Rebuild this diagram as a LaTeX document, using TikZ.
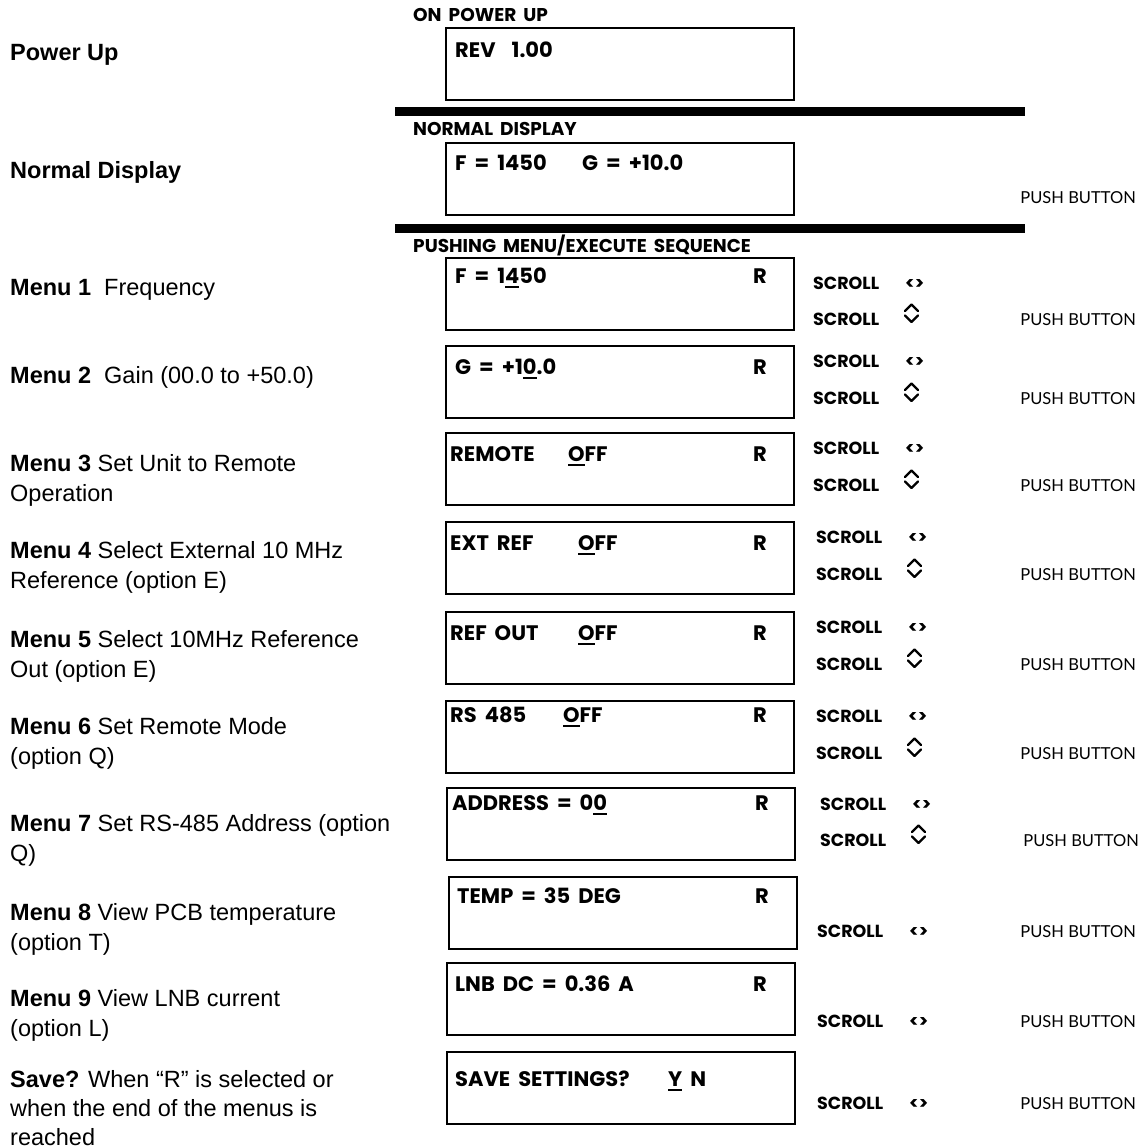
\documentclass[tikz,border=0pt]{standalone}
\usepackage{fontspec}
\setmainfont{Liberation Sans}
\newfontfamily\lcd{Poppins}[WordSpace=1.8]
\newfontfamily\pbfont{Lato}
\newcommand\lcdul[1]{\setbox0=\hbox{#1}\rlap{\rule[-4.5pt]{\wd0}{1.8pt}}\box0\relax}
\tikzset{
  lcdbox/.style={draw, line width=2.4pt, minimum width=348pt, minimum height=72pt, inner sep=0pt, outer sep=0pt, anchor=north west},
  lcdtxt/.style={anchor=base west, inner sep=0pt, font=\lcd\bfseries\fontsize{21}{24}\selectfont},
  hdr/.style={anchor=base west, inner sep=0pt, font=\lcd\bfseries\fontsize{18.5}{20}\selectfont},
  scr/.style={anchor=base west, inner sep=0pt, font=\lcd\bfseries\fontsize{17.5}{20}\selectfont},
  pb/.style={anchor=base east, inner sep=0pt, font=\pbfont\fontsize{16.5}{20}\selectfont},
  lbl/.style={anchor=base west, inner sep=0pt, font=\fontsize{23.5}{30}\selectfont},
  barline/.style={fill=black, inner sep=0pt, outer sep=0pt, minimum width=630pt, minimum height=9pt, anchor=north west},
  chev/.style={line width=2.4pt, line cap=round, line join=round},
}
\begin{document}
\begin{tikzpicture}[x=1pt,y=-1pt]
\useasboundingbox (0,0) rectangle (1141,1148);
% left labels
\node[lbl] (lpu) at (10,60) {\textbf{Power Up}};
\node[lbl] (lnd) at (10,178) {\textbf{Normal Display}};
\node[lbl] (l1) at (10,295) {\textbf{Menu 1}\ \ Frequency};
\node[lbl] (l2) at (10,383) {\textbf{Menu 2}\ \ Gain (00.0 to +50.0)};
\node[lbl] (l3a) at (10,471) {\textbf{Menu 3} Set Unit to Remote};
\node[lbl] (l3b) at (10,501) {Operation};
\node[lbl] (l4a) at (10,558) {\textbf{Menu 4} Select External 10 MHz};
\node[lbl] (l4b) at (10,588) {Reference (option E)};
\node[lbl] (l5a) at (10,647) {\textbf{Menu 5} Select 10MHz Reference};
\node[lbl] (l5b) at (10,677) {Out (option E)};
\node[lbl] (l6a) at (10,734) {\textbf{Menu 6} Set Remote Mode};
\node[lbl] (l6b) at (10,764) {(option Q)};
\node[lbl] (l7a) at (10,831) {\textbf{Menu 7} Set RS-485 Address (option};
\node[lbl] (l7b) at (10,861) {Q)};
\node[lbl] (l8a) at (10,920) {\textbf{Menu 8} View PCB temperature};
\node[lbl] (l8b) at (10,950) {(option T)};
\node[lbl] (l9a) at (10,1006) {\textbf{Menu 9} View LNB current};
\node[lbl] (l9b) at (10,1036) {(option L)};
\node[lbl] (lsa) at (10,1087) {\textbf{Save?} When \char"201C R\char"201D\ is selected or};
\node[lbl] (lsb) at (10,1116) {when the end of the menus is};
\node[lbl] (lsc) at (10,1145) {reached};
% headers and bars
\node[hdr] (h0) at (413,22) {ON POWER UP};
\node[barline] (bar1) at (395,107) {};
\node[hdr] (h1) at (413,135) {NORMAL DISPLAY};
\node[barline] (bar2) at (395,224) {};
\node[hdr] (h2) at (413,252) {PUSHING MENU/EXECUTE SEQUENCE};
% boxes
\node[lcdbox] (b0) at (446,28) {};
\node[lcdbox] (b1) at (446,143) {};
\node[lcdbox] (m1) at (446,258) {};
\node[lcdbox] (m2) at (446,346) {};
\node[lcdbox] (m3) at (446,433) {};
\node[lcdbox] (m4) at (446,522) {};
\node[lcdbox] (m5) at (446,612) {};
\node[lcdbox] (m6) at (446,701) {};
\node[lcdbox] (m7) at (447,788) {};
\node[lcdbox] (m8) at (449,877) {};
\node[lcdbox] (m9) at (447,963) {};
\node[lcdbox] (sv) at (447,1052) {};
% box texts
\node[lcdtxt] (t0) at (455,57) {REV\ \ 1.00};
\node[lcdtxt] (t1a) at (455,170) {F = 1450};
\node[lcdtxt] (t1b) at (582,170) {G = +10.0};
\node[lcdtxt] (t2) at (455,283) {F = 1\lcdul{4}50};
\node[lcdtxt] (t3) at (455,374) {G = +1\lcdul{0}.0};
\node[lcdtxt] (t4a) at (450,461) {REMOTE};
\node[lcdtxt] (t4b) at (568,461) {\lcdul{O}FF};
\node[lcdtxt] (t5a) at (450,550) {EXT REF};
\node[lcdtxt] (t5b) at (578,550) {\lcdul{O}FF};
\node[lcdtxt] (t6a) at (450,640) {REF OUT};
\node[lcdtxt] (t6b) at (578,640) {\lcdul{O}FF};
\node[lcdtxt] (t7a) at (450,722) {RS 485};
\node[lcdtxt] (t7b) at (563,722) {\lcdul{O}FF};
\node[lcdtxt] (t8) at (452,810) {ADDRESS = 0\lcdul{0}};
\node[lcdtxt] (t9) at (457,903) {TEMP = 35 DEG};
\node[lcdtxt] (t10) at (455,991) {LNB DC = 0.36 A};
\node[lcdtxt] (t11a) at (455,1086) {SAVE SETTINGS?};
\node[lcdtxt] (t11b) at (668,1086) {\lcdul{Y} N};
% R markers
\foreach \n/\x/\y in {2/753/283, 3/753/374, 4/753/461, 5/753/550, 6/753/640, 7/753/722, 8/755/810, 9/755/903, 10/753/991}
  \node[lcdtxt] (r\n) at (\x,\y) {R};
% push button for normal display
\node[pb] (pnd) at (1136,203) {PUSH BUTTON};
% scroll pairs
\foreach \n/\x/\ya/\yb/\px in {1/813/289.5/325.5/1136, 2/813/367.5/404.5/1136, 3/813/454.5/491.5/1136, 4/816/543.5/580.5/1136, 5/816/633.5/670.5/1136, 6/816/722.5/759.5/1136, 7/820/810.5/846.5/1139}{
  \node[scr] (sa\n) at (\x,\ya) {SCROLL};
  \node[scr] (lr\n) at (\x+92,\ya) {<>};
  \node[scr] (sb\n) at (\x,\yb) {SCROLL};
  \draw[chev] (\x+92,\yb-14.5) -- (\x+98.5,\yb-21) -- (\x+105,\yb-14.5);
  \draw[chev] (\x+92,\yb-10) -- (\x+98.5,\yb-3.5) -- (\x+105,\yb-10);
  \node[pb] (pb\n) at (\px,\yb) {PUSH BUTTON};
}
\foreach \n/\y in {8/937, 9/1027, 10/1109}{
  \node[scr] (sa\n) at (817,\y) {SCROLL};
  \node[scr] (lr\n) at (909,\y) {<>};
  \node[pb] (pb\n) at (1136,\y) {PUSH BUTTON};
}
\end{tikzpicture}
\end{document}
